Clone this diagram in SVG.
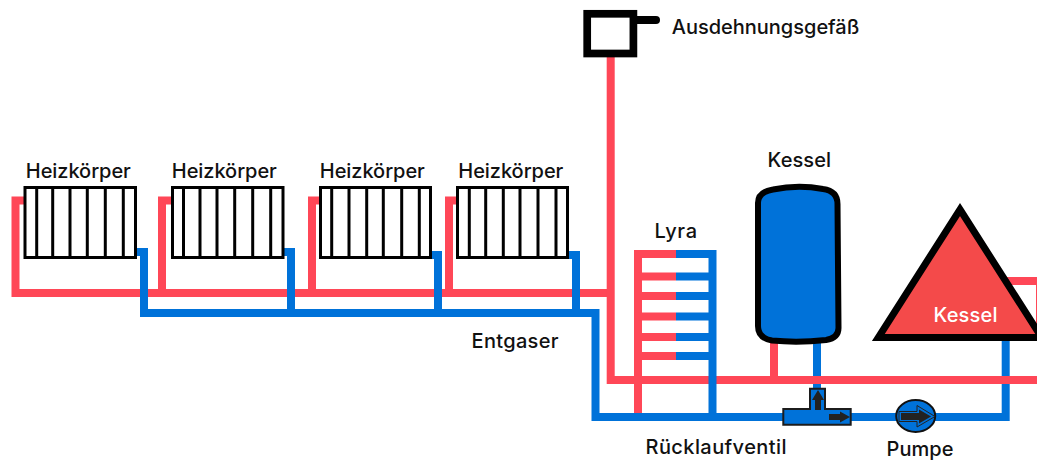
<svg xmlns="http://www.w3.org/2000/svg" width="1037" height="464" viewBox="0 0 1037 464">
<style>
.r{fill:none;stroke:#ff4757;stroke-width:8}
.b{fill:none;stroke:#0072d9;stroke-width:8}
.k{fill:#fff;stroke:#000;stroke-width:3}
.bar{stroke:#000;stroke-width:3;fill:none}
text{font-family:"Inter","Noto Sans","Liberation Sans",sans-serif;font-size:20px;font-weight:500;fill:#111}
.val{fill:#0072d9;stroke:#1c1c1c;stroke-width:2}
.arr{fill:#222}
</style>
<rect width="1037" height="464" fill="#fff"/>
<g id="connectors">
<path class="r" d="M1040 337V281H990"/>
<path class="b" d="M1005.700 335V417H595.500V313H144V252H137"/>
<path class="b" d="M291 313V252H284"/>
<path class="b" d="M438 313V255H431"/>
<path class="b" d="M576 313V255H568"/>
<path class="b" d="M817 342V392"/>
<path class="r" d="M24 200.500H15.500V293H611"/>
<path class="r" d="M171 200.500H162V293"/>
<path class="r" d="M319 200.500H312V293"/>
<path class="r" d="M456 200.500H449V293"/>
<path class="r" d="M610.700 57V380H1037"/>
<path class="r" d="M774 342V380"/>
<path class="b" d="M144 252V313H595.500"/>
<path class="b" d="M291 252V313"/>
<path class="b" d="M438 255V313"/>
<path class="b" d="M576 255V313"/>
<path class="r" d="M676 254H638V413"/>
<path class="r" d="M638 276.500H676M638 296H676M638 316.500H676M638 337H676M638 356H676"/>
<path class="b" d="M676 254H712.500V417M676 276.500H712.500M676 296H712.500M676 316.500H712.500M676 337H712.500M676 356H712.500"/>
<path class="b" d="M595.500 417H1005.700"/>
</g>
<g id="heizkoerper-1">
<rect class="k" x="25" y="187.500" width="110.500" height="70"/>
<path class="bar" d="M36.700 187.500V257.500M52.700 187.500V257.500M70 187.500V257.500M87.300 187.500V257.500M105.300 187.500V257.500M123.300 187.500V257.500"/>
<text x="25.800" y="178" textLength="105">Heizkörper</text>
</g>
<g id="heizkoerper-2">
<rect class="k" x="172.500" y="187.500" width="110.500" height="70"/>
<path class="bar" d="M183.500 187.500V257.500M200 187.500V257.500M217 187.500V257.500M234.700 187.500V257.500M252.700 187.500V257.500M270.700 187.500V257.500"/>
<text x="171.800" y="178" textLength="105">Heizkörper</text>
</g>
<g id="heizkoerper-3">
<rect class="k" x="320.500" y="187.500" width="110" height="70"/>
<path class="bar" d="M331.700 187.500V257.500M349 187.500V257.500M366.700 187.500V257.500M383.300 187.500V257.500M401.700 187.500V257.500M419.300 187.500V257.500"/>
<text x="319.800" y="178" textLength="105">Heizkörper</text>
</g>
<g id="heizkoerper-4">
<rect class="k" x="457.500" y="187.500" width="110" height="70"/>
<path class="bar" d="M469.300 187.500V257.500M485.700 187.500V257.500M503.300 187.500V257.500M520 187.500V257.500M538 187.500V257.500M556 187.500V257.500"/>
<text x="458.300" y="178" textLength="105">Heizkörper</text>
</g>
<g id="ausdehnungsgefaess">
<path d="M637 20H656" fill="none" stroke="#000" stroke-width="8" stroke-linecap="round"/>
<rect x="587.200" y="13.800" width="46.200" height="39.700" fill="#fff" stroke="#000" stroke-width="7.700"/>
<text x="671.800" y="34" textLength="187.500">Ausdehnungsgefäß</text>
</g>
<g id="lyra"><text x="654.500" y="238" textLength="42.500">Lyra</text></g>
<g id="speicher">
<path d="M758 203Q758 192 773 189.500Q798 184.500 823 189Q837.500 191 837.500 204L838.500 328Q838.500 338 826 340Q798 343 772 340.500Q758 338 758 326Z" fill="#0072d9" stroke="#000" stroke-width="6"/>
<text x="767.600" y="167.300" textLength="63.400">Kessel</text>
</g>
<g id="kessel">
<path d="M960 209.500L1041.600 337.500H878.300Z" fill="#f44a4a" stroke="#000" stroke-width="7"/>
<text x="933.500" y="321.700" textLength="64" style="fill:#fff">Kessel</text>
</g>
<g id="ruecklaufventil">
<path class="val" d="M783.300 409H810V388.700H825V409H850.700V424.700H783.300Z"/>
<path class="arr" d="M815 410V400H812L818 390L824 400H821V410Z"/>
<path class="arr" d="M829 414H840V411.500L850 417L840 422.500V420H829Z"/>
<text x="645.500" y="454.300" textLength="141">Rücklaufventil</text>
</g>
<g id="pumpe">
<ellipse cx="915.700" cy="416" rx="19.500" ry="16" fill="#0072d9" stroke="#111" stroke-width="2"/>
<path d="M899 411.500H917V405.500L935 416.500L917 427V421.500H899Z" fill="#0072d9" stroke="#222" stroke-width="1"/>
<path d="M901 413H919V409.500L931 416.500L919 423.500V420H901Z" fill="#222"/>
<text x="886.500" y="456" textLength="67">Pumpe</text>
</g>
<g id="entgaser"><text x="471.500" y="348.300" textLength="87">Entgaser</text></g>
</svg>
